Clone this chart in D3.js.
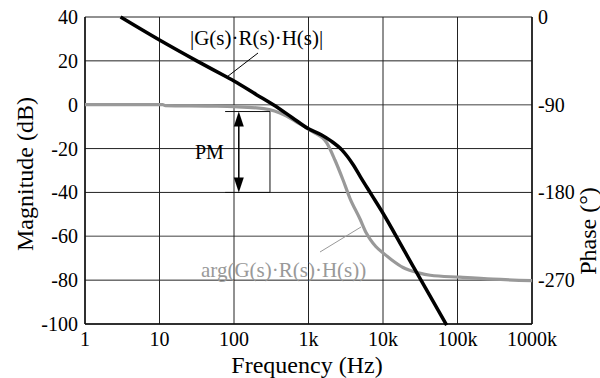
<!DOCTYPE html>
<html>
<head>
<meta charset="utf-8">
<script src="https://cdn.jsdelivr.net/npm/d3@7"></script>
<style>
  body { margin: 0; background: #fff; }
  svg text { font-family: "Liberation Serif", "Times New Roman", "DejaVu Serif", serif; }
</style>
</head>
<body>
<svg id="chart" width="600" height="378" font-family="Liberation Serif, serif"></svg>
<script>
// frequency decades on the x axis
var freqTicks = [1, 10, 100, 1000, 10000, 100000, 1000000]
var freqLabels = ["1", "10", "100", "1k", "10k", "100k", "1000k"]
var magTicks = [40, 20, 0, -20, -40, -60, -80, -100]
var phaseTicks = [0, -90, -180, -270]

// |G(s)R(s)H(s)| in dB
var magFreq = [3, 10, 31.6, 80, 100, 200, 337, 600, 1000, 1500, 2000, 2800, 4000, 5000, 7000, 10000, 20000, 40000, 71500]
var magDb = [40, 29.5, 20, 12.6, 10.8, 4.6, 0, -5.8, -11, -13.8, -16.5, -20.6, -27.5, -33, -41, -49.5, -67.5, -85.5, -100.5]

// arg(G(s)R(s)H(s)) in degrees
var phFreq = [1, 11, 12, 50, 100, 250, 350, 500, 700, 1000, 1150, 1750, 2270, 2900, 3600, 4900, 6000, 6700, 8000, 10000, 13000, 18600, 30000, 43000, 107000, 300000, 1000000]
var phDeg = [-90, -90, -91, -91.5, -92, -94, -96.5, -101.5, -108, -115, -118, -129, -147, -167, -186, -207, -222, -228, -235.5, -242, -249, -257, -262.5, -265, -267, -269, -270.5]

var svg = d3.select("#chart")
var pLeft = 85, pRight = 532, pTop = 17, pBottom = 324
var serif = "Liberation Serif, Times New Roman, serif"

var x = d3.scaleLog().domain([1, 1000000]).range([pLeft, pRight])
var y = d3.scaleLinear().domain([-100, 40]).range([pBottom, pTop])
var yP = d3.scaleLinear().domain([-315, 0]).range([pBottom, pTop])

// grid
var grayRows = [0, -60]
svg.append("g").selectAll("line")
  .data(magTicks)
  .enter().append("line")
  .attr("x1", pLeft).attr("x2", pRight)
  .attr("y1", function (d) { return y(d) }).attr("y2", function (d) { return y(d) })
  .attr("stroke", function (d) { return grayRows.indexOf(d) >= 0 ? "#808080" : "#222" })
  .attr("stroke-width", function (d) { return grayRows.indexOf(d) >= 0 ? 1.5 : 1 })

svg.append("g").selectAll("line")
  .data(freqTicks)
  .enter().append("line")
  .attr("x1", function (d) { return x(d) }).attr("x2", function (d) { return x(d) })
  .attr("y1", pTop).attr("y2", pBottom)
  .attr("stroke", "#222")
  .attr("stroke-width", 1)

// axes frame
svg.append("line").attr("x1", pLeft).attr("x2", pLeft).attr("y1", pTop).attr("y2", pBottom)
  .attr("stroke", "#111").attr("stroke-width", 1.5)
svg.append("line").attr("x1", pLeft).attr("x2", pRight).attr("y1", pBottom).attr("y2", pBottom)
  .attr("stroke", "#111").attr("stroke-width", 1.5)
svg.append("line").attr("x1", pRight).attr("x2", pRight).attr("y1", pTop).attr("y2", pBottom)
  .attr("stroke", "#111").attr("stroke-width", 1.5)

// tick labels
svg.append("g").selectAll("text")
  .data(magTicks)
  .enter().append("text")
  .attr("x", 78).attr("y", function (d) { return y(d) })
  .attr("dy", "0.35em")
  .attr("text-anchor", "end")
  .attr("font-family", serif).attr("font-size", 20)
  .text(function (d) { return d })

svg.append("g").selectAll("text")
  .data(phaseTicks)
  .enter().append("text")
  .attr("x", 538).attr("y", function (d) { return yP(d) })
  .attr("dy", "0.35em")
  .attr("font-family", serif).attr("font-size", 20)
  .text(function (d) { return d })

svg.append("g").selectAll("text")
  .data(freqTicks)
  .enter().append("text")
  .attr("x", function (d) { return x(d) }).attr("y", 346)
  .attr("text-anchor", "middle")
  .attr("font-family", serif).attr("font-size", 20)
  .text(function (d, i) { return freqLabels[i] })

// axis titles
svg.append("text").attr("x", 307).attr("y", 373)
  .attr("text-anchor", "middle").attr("font-family", serif).attr("font-size", 24)
  .text("Frequency (Hz)")
svg.append("text")
  .attr("transform", "translate(33,174) rotate(-90)")
  .attr("text-anchor", "middle").attr("font-family", serif).attr("font-size", 24)
  .text("Magnitude (dB)")
svg.append("text")
  .attr("transform", "translate(596,231) rotate(-90)")
  .attr("text-anchor", "middle").attr("font-family", serif).attr("font-size", 24)
  .text("Phase (°)")

// curves
var phLine = d3.line()
  .x(function (d) { return x(d[0]) })
  .y(function (d) { return yP(d[1]) })
  .curve(d3.curveMonotoneX)
svg.append("path")
  .datum(d3.zip(phFreq, phDeg))
  .attr("d", phLine)
  .attr("fill", "none").attr("stroke", "#999").attr("stroke-width", 3.2)

var magLine = d3.line()
  .x(function (d) { return x(d[0]) })
  .y(function (d) { return y(d[1]) })
  .curve(d3.curveMonotoneX)
svg.append("path")
  .datum(d3.zip(magFreq, magDb))
  .attr("d", magLine)
  .attr("fill", "none").attr("stroke", "#000").attr("stroke-width", 3.5)

// phase margin bracket
var pmTop = -97, pmLeft = 76, pmRight = 304, pmArrow = 116
svg.append("path")
  .attr("d", "M" + x(pmLeft) + "," + yP(pmTop) + "H" + x(pmRight) + "V" + yP(-180) + "H" + x(pmLeft))
  .attr("fill", "none").attr("stroke", "#111").attr("stroke-width", 1)
var ax = x(pmArrow), ay1 = yP(pmTop), ay2 = yP(-180)
svg.append("line").attr("x1", ax).attr("x2", ax).attr("y1", ay1 + 10).attr("y2", ay2 - 10)
  .attr("stroke", "#000").attr("stroke-width", 1.5)
svg.append("path")
  .attr("d", "M" + ax + "," + ay1 + "l-5,15h10z")
  .attr("fill", "#000")
svg.append("path")
  .attr("d", "M" + ax + "," + ay2 + "l-5,-15h10z")
  .attr("fill", "#000")
svg.append("text").attr("x", 195).attr("y", 159)
  .attr("font-family", serif).attr("font-size", 20).text("PM")

// labels with leader lines
svg.append("text").attr("x", 190).attr("y", 45)
  .attr("font-family", serif).attr("font-size", 21)
  .text("|G(s)·R(s)·H(s)|")
svg.append("line").attr("x1", 258).attr("y1", 53).attr("x2", x(80)).attr("y2", y(12.6))
  .attr("stroke", "#000").attr("stroke-width", 1)

svg.append("text").attr("x", 201).attr("y", 277)
  .attr("font-family", serif).attr("font-size", 21)
  .attr("fill", "#999")
  .text("arg(G(s)·R(s)·H(s))")
svg.append("line").attr("x1", 320).attr("y1", 252).attr("x2", 361).attr("y2", 227)
  .attr("stroke", "#999").attr("stroke-width", 1)
</script>
</body>
</html>
